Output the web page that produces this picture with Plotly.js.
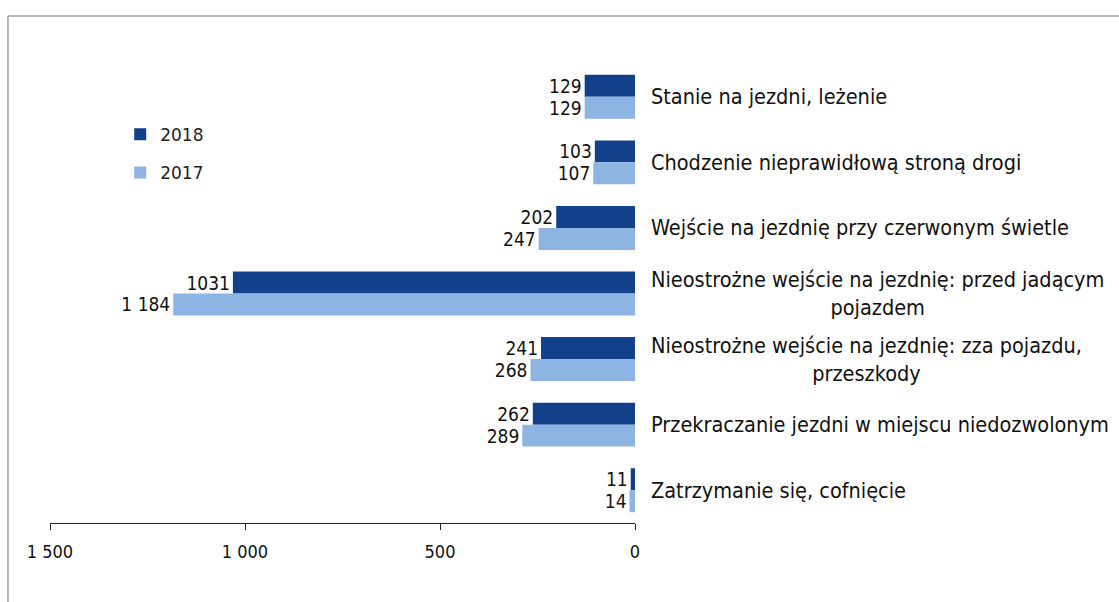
<!DOCTYPE html>
<html>
<head>
<meta charset="utf-8">
<script src="https://cdn.plot.ly/plotly-3.0.1.min.js"></script>
<style>
  body { margin: 0; background: #fff; }
  #plot { width: 1119px; height: 602px; }
</style>
</head>
<body>
<div id="plot"></div>
<script>
var categories = [
  "Stanie na jezdni, leżenie",
  "Chodzenie nieprawidłową stroną drogi",
  "Wejście na jezdnię przy czerwonym świetle",
  "Nieostrożne wejście na jezdnię: przed jadącym<br>pojazdem",
  "Nieostrożne wejście na jezdnię: zza pojazdu,<br>przeszkody",
  "Przekraczanie jezdni w miejscu niedozwolonym",
  "Zatrzymanie się, cofnięcie"
];
var values2018 = [129, 103, 202, 1031, 241, 262, 11];
var values2017 = [129, 107, 247, 1184, 268, 289, 14];
var tickValues = [0, 500, 1000, 1500];
var tickLabels = ["0", "500", "1 000", "1 500"];

// 2017 labels use a space as thousands separator, 2018 ones do not
function spaced(v) {
  return String(v).replace(/\B(?=(\d{3})+(?!\d))/g, " ");
}

var labelFont = {family: "DejaVu Sans Condensed, DejaVu Sans", size: 19, color: "#111"};

var data = [
  {
    name: "2018", type: "bar", orientation: "h",
    x: values2018, y: categories,
    text: values2018.map(String),
    textposition: "outside", constraintext: "none", cliponaxis: false,
    textfont: labelFont,
    marker: {color: "#13408B"},
    legendgroup: "a", hoverinfo: "x"
  },
  {
    name: "2017", type: "bar", orientation: "h",
    x: values2017, y: categories,
    text: values2017.map(spaced),
    textposition: "outside", constraintext: "none", cliponaxis: false,
    textfont: labelFont,
    marker: {color: "#8EB4E3"},
    legendgroup: "b", hoverinfo: "x"
  }
];

var annotations = categories.map(function (c) {
  return {
    text: c, xref: "paper", yref: "y", x: 1.024, y: c,
    xanchor: "left", yanchor: "middle", align: "center", showarrow: false,
    font: {family: "DejaVu Sans Condensed, DejaVu Sans", size: 21.5, color: "#111"}
  };
});

var layout = {
  width: 1119, height: 602,
  margin: {l: 50, r: 484, t: 64, b: 79},
  barmode: "group", bargap: 0.33, bargroupgap: 0,
  paper_bgcolor: "#fff", plot_bgcolor: "#fff",
  showlegend: true,
  legend: {
    x: 0.12, y: 0.885, xanchor: "left", yanchor: "top",
    traceorder: "grouped", tracegroupgap: 13,
    font: {family: "DejaVu Sans", size: 17, color: "#222"},
    bgcolor: "rgba(0,0,0,0)"
  },
  xaxis: {
    range: [1500, 0], tickvals: tickValues, ticktext: tickLabels,
    showline: true, linecolor: "#222", linewidth: 1,
    ticks: "outside", ticklen: 6, tickcolor: "#222",
    ticklabelstandoff: 6,
    showgrid: false, zeroline: false,
    tickfont: {family: "DejaVu Sans Condensed, DejaVu Sans", size: 18, color: "#111"}
  },
  yaxis: {
    autorange: "reversed", showticklabels: false, showgrid: false,
    zeroline: false, showline: false, ticks: ""
  },
  annotations: annotations,
  shapes: [
    {type: "line", xref: "paper", yref: "paper", x0: -0.0718, x1: 1.9, y0: 1.1046, y1: 1.1046,
     line: {color: "#A0A0A0", width: 1.5}},
    {type: "line", xref: "paper", yref: "paper", x0: -0.0718, x1: -0.0718, y0: 1.1046, y1: -0.2,
     line: {color: "#A0A0A0", width: 1.5}}
  ]
};

Plotly.newPlot("plot", data, layout, {displayModeBar: false});
</script>
</body>
</html>
